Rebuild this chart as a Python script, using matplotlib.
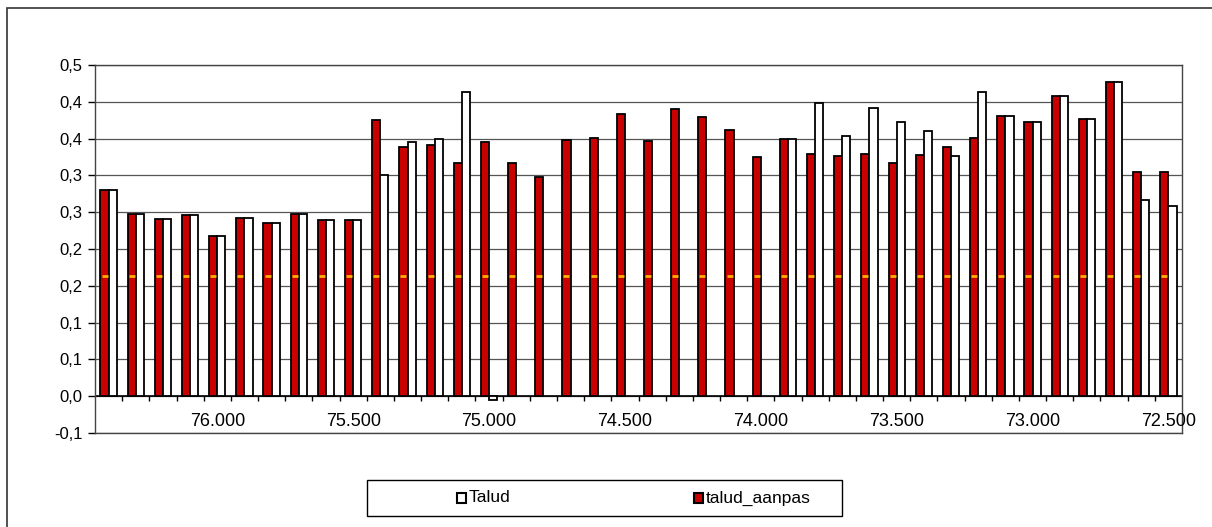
import matplotlib
matplotlib.use("Agg")
import matplotlib.pyplot as plt
import numpy as np
from matplotlib.patches import Rectangle

plt.rcParams["font.family"] = ["Liberation Sans", "DejaVu Sans"]

# ---------------------------------------------------------------------------
# Data
# ---------------------------------------------------------------------------

# chainage categories, left to right (76.400 .. 72.500, step 100 m)
categories = [
    "76.400", "76.300", "76.200", "76.100", "76.000",
    "75.900", "75.800", "75.700", "75.600", "75.500",
    "75.400", "75.300", "75.200", "75.100", "75.000",
    "74.900", "74.800", "74.700", "74.600", "74.500",
    "74.400", "74.300", "74.200", "74.100", "74.000",
    "73.900", "73.800", "73.700", "73.600", "73.500",
    "73.400", "73.300", "73.200", "73.100", "73.000",
    "72.900", "72.800", "72.700", "72.600", "72.500",
]

talud_aanpas = [
    0.280, 0.247, 0.241, 0.246, 0.218, 0.242, 0.235, 0.247, 0.240, 0.239,
    0.375, 0.338, 0.341, 0.317, 0.346, 0.317, 0.298, 0.348, 0.351, 0.384,
    0.347, 0.390, 0.380, 0.362, 0.325, 0.350, 0.329, 0.327, 0.329, 0.317,
    0.328, 0.339, 0.351, 0.381, 0.373, 0.408, 0.377, 0.427, 0.305, 0.305,
]

talud = [
    0.280, 0.247, 0.241, 0.246, 0.218, 0.242, 0.235, 0.247, 0.240, 0.239,
    0.300, 0.345, 0.350, 0.413, -0.005, None, None, None, None, None,
    None, None, None, None, None, 0.350, 0.398, 0.353, 0.391, 0.373,
    0.360, 0.326, 0.413, 0.381, 0.373, 0.408, 0.377, 0.427, 0.266, 0.259,
]

# small orange marks visible on every red bar
mark_level = 0.163

y_ticks = [-0.05, 0.0, 0.05, 0.10, 0.15, 0.20, 0.25, 0.30, 0.35, 0.40, 0.45]
y_labels = ["-0,1", "0,0", "0,1", "0,1", "0,2", "0,2", "0,3", "0,3", "0,4", "0,4", "0,5"]
label_every = 5

# ---------------------------------------------------------------------------
# Figure
# ---------------------------------------------------------------------------

W, H = 1212, 527
fig = plt.figure(figsize=(W / 100, H / 100), dpi=100)
ax = fig.add_axes([95 / W, 1 - 433 / H, (1182 - 95) / W, (433 - 65) / H])

n = len(categories)
x = np.arange(n) + 0.5
bw = 0.3
red = "#C80000"

ax.bar(x - bw / 2, talud_aanpas, width=bw, color=red, edgecolor="black",
       linewidth=1.3, zorder=3)
t_vals = np.array([np.nan if v is None else v for v in talud], dtype=float)
ok = ~np.isnan(t_vals)
ax.bar(x[ok] + bw / 2, t_vals[ok], width=bw, color="white", edgecolor="black",
       linewidth=1.3, zorder=3)
ax.plot(x - bw / 2, [mark_level] * n, linestyle="none", marker="_",
        markersize=4, markeredgewidth=2, color="#FFB000", zorder=4)

ax.set_xlim(0, n)
ax.set_ylim(-0.05, 0.45)

ax.set_yticks(y_ticks)
ax.set_yticklabels(y_labels, fontsize=12)
ax.tick_params(axis="y", direction="out", length=5, width=1, pad=4)
ax.yaxis.grid(True, color="#555555", linewidth=0.9)
ax.set_axisbelow(True)

# category axis sits on y = 0, tick marks between categories
ax.set_xticks([])
ax.axhline(0, color="black", linewidth=1.2, zorder=2)
ax.vlines(np.arange(1, n), -0.007, 0, color="black", linewidth=1, zorder=2)
for i in range(label_every - 1, n, label_every):
    ax.text(x[i], -0.035, categories[i], ha="center", va="center", fontsize=13)

for s in ax.spines.values():
    s.set_color("#444444")
    s.set_linewidth(1)

# outer chart border (runs off the page at right and bottom)
fig.patches.append(Rectangle((7 / W, -0.1), 1.2, 1 - 8 / H + 0.1,
                             transform=fig.transFigure, fill=False,
                             edgecolor="#333333", linewidth=1.2))

# legend box
fig.patches.append(Rectangle((367 / W, 1 - 516 / H), (842 - 367) / W, 36 / H,
                             transform=fig.transFigure, fill=False,
                             edgecolor="black", linewidth=1))
ly = 1 - 498 / H
fig.patches.append(Rectangle((457 / W, ly - 5 / H), 9 / W, 10 / H,
                             transform=fig.transFigure, facecolor="white",
                             edgecolor="black", linewidth=1.5))
fig.text(469 / W, ly, "Talud", fontsize=12.5, va="center", ha="left")
fig.patches.append(Rectangle((694 / W, ly - 5 / H), 9 / W, 10 / H,
                             transform=fig.transFigure, facecolor=red,
                             edgecolor="black", linewidth=1.5))
fig.text(706 / W, ly, "talud_aanpas", fontsize=12.5, va="center", ha="left")

fig.savefig("out.png", dpi=100)
